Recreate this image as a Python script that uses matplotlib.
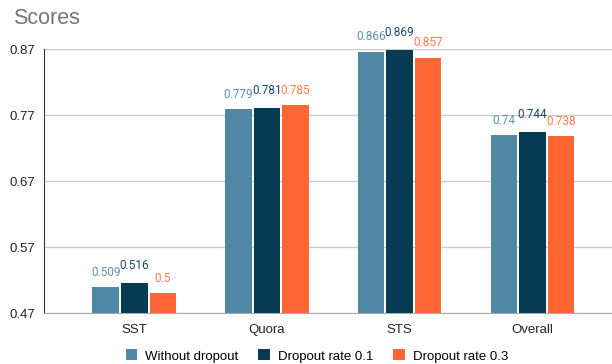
import numpy as np
import matplotlib.pyplot as plt

categories = ["SST", "Quora", "STS", "Overall"]
series_names = ["Without dropout", "Dropout rate 0.1", "Dropout rate 0.3"]
no_dropout = [0.509, 0.779, 0.866, 0.74]
dropout_01 = [0.516, 0.781, 0.869, 0.744]
dropout_03 = [0.5, 0.785, 0.857, 0.738]
y_ticks = [0.47, 0.57, 0.67, 0.77, 0.87]

colors = ["#4f87a4", "#073b54", "#ff6633"]
label_colors = ["#5f93ae", "#1a4a61", "#ff7a4d"]

fig = plt.figure(figsize=(6.12, 3.64), dpi=100)
ax = fig.add_axes([0.0719, 0.14, 0.9281, 0.725])

x = np.arange(len(categories))
width = 0.2
offsets = [-0.215, 0, 0.215]
all_series = [no_dropout, dropout_01, dropout_03]

for i, vals in enumerate(all_series):
    bars = ax.bar(x + offsets[i], vals, width, color=colors[i],
                  label=series_names[i], zorder=3)
    for b, v in zip(bars, vals):
        ax.annotate(str(v), (b.get_x() + b.get_width() / 2, v),
                    xytext=(0, 6 if i != 1 else 8), textcoords="offset points",
                    ha="center", va="bottom", fontsize=8.5,
                    color=label_colors[i], family="Roboto")

ax.set_ylim(0.47, 0.87)
ax.set_xlim(-0.68, 3.6)
ax.set_yticks(y_ticks)
ax.set_yticklabels(["%.2f" % t for t in y_ticks])
ax.set_xticks(x)
ax.set_xticklabels(categories)
ax.tick_params(length=0, labelsize=9.5, colors="#222222")
ax.tick_params(axis="x", pad=8)
ax.tick_params(axis="y", pad=6)
for lab in ax.get_xticklabels() + ax.get_yticklabels():
    lab.set_family("Liberation Sans")

ax.grid(axis="y", color="#cccccc", linewidth=1, zorder=0)
for s in ["top", "right"]:
    ax.spines[s].set_visible(False)
ax.spines["left"].set_color("#333333")
ax.spines["bottom"].set_color("#aaaaaa")

fig.text(0.021, 0.948, "Scores", fontsize=15.5, color="#757575",
         family="Liberation Sans", va="center")

leg = fig.legend(loc="center", bbox_to_anchor=(0.518, 0.022), ncol=3,
                 frameon=False, handlelength=0.9,
                 handleheight=0.9, handletextpad=0.6, columnspacing=1.5,
                 prop={"family": "Liberation Sans", "size": 9.5})

fig.savefig("out.png", dpi=100)
